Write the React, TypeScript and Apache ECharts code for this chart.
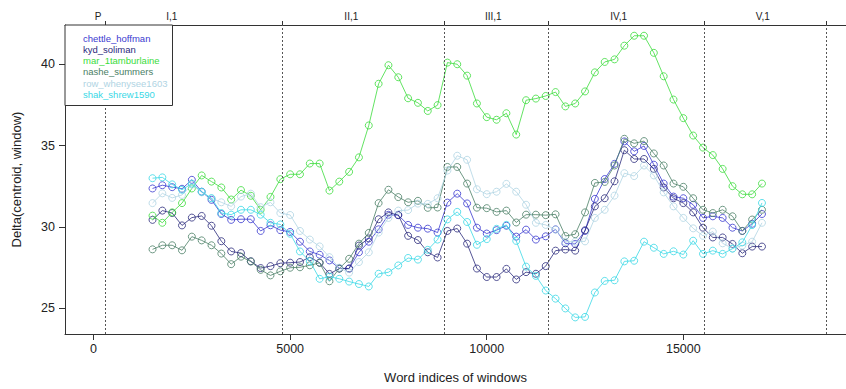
import React, { useEffect, useRef } from "react";
import * as echarts from "echarts";

// Window centre positions (word indices)
const windowX = [
  1500, 1750, 2000, 2250, 2500, 2750, 3000, 3250, 3500, 3750,
  4000, 4250, 4500, 4750, 5000, 5250, 5500, 5750, 6000, 6250,
  6500, 6750, 7000, 7250, 7500, 7750, 8000, 8250, 8500, 8750,
  9000, 9250, 9500, 9750, 10000, 10250, 10500, 10750, 11000, 11250,
  11500, 11750, 12000, 12250, 12500, 12750, 13000, 13250, 13500, 13750,
  14000, 14250, 14500, 14750, 15000, 15250, 15500, 15750, 16000, 16250,
  16500, 16750, 17000,
];

const chettleHoffman = [
  32.37, 32.57, 32.45, 32.35, 32.9, 32.17, 31.67, 30.8, 30.44, 30.48,
  30.48, 29.76, 30.11, 29.81, 29.7, 29.1, 28.5, 28.3, 27.95, 27.47,
  27.45, 28.45, 29.1, 29.86, 30.75, 30.73, 30.13, 29.96, 29.9, 29.66,
  31.5, 32.05, 31.45, 29.96, 29.6, 29.81, 30.08, 29.41, 29.84, 29.23,
  29.43, 29.86, 29.0, 28.96, 29.76, 31.73, 32.95, 33.88, 35.26, 34.65,
  34.98, 33.83, 32.67, 31.87, 31.77, 31.37, 30.56, 30.66, 30.56, 29.96,
  29.76, 30.2, 30.8,
];

const kydSoliman = [
  30.44, 31.01, 30.86, 30.1, 30.58, 30.68, 30.08, 29.13, 28.5, 28.4,
  27.9, 27.48, 27.6, 27.78, 27.81, 27.85, 28.15, 27.81, 27.12, 27.45,
  27.45, 28.86, 29.3, 30.48, 30.9, 30.74, 29.46, 29.2, 28.45, 28.13,
  29.76, 29.91, 28.98, 27.45, 26.93, 26.93, 27.43, 26.78, 27.23, 27.13,
  27.6, 28.55, 28.62, 28.55, 29.8, 31.27, 31.77, 32.81, 34.72, 34.18,
  34.18, 33.57, 32.43, 31.77, 31.47, 30.9, 29.96, 29.36, 29.36, 28.96,
  28.39, 28.8, 28.8,
];

const mar1Tamburlaine = [
  30.7, 30.26, 30.9, 31.47, 32.37, 33.17, 32.79, 32.43, 31.69, 32.27,
  31.92, 31.06, 31.85, 32.94, 33.24, 33.24, 33.9, 33.9, 32.24, 32.79,
  33.39, 34.28, 36.24, 38.8, 39.94, 39.2, 37.91, 37.63, 37.13, 37.49,
  40.1, 40.0, 39.3, 37.59, 36.75, 36.59, 36.99, 35.68, 37.79, 37.89,
  38.05, 38.29, 37.41, 37.59, 38.33, 39.5, 40.14, 40.3, 41.14, 41.75,
  41.75, 40.7, 39.26, 37.83, 36.69, 35.62, 34.88, 34.42, 33.57, 32.51,
  32.01, 32.01, 32.67,
];

const nasheSummers = [
  28.63, 28.88, 28.88, 28.57, 29.41, 29.18, 28.88, 28.37, 27.72, 28.18,
  27.88, 27.37, 27.03, 27.28, 27.5, 27.53, 27.65, 27.8, 26.67, 27.45,
  28.05, 28.98, 29.64, 31.47, 32.29, 31.84, 31.52, 31.61, 31.18, 31.2,
  33.69, 33.69, 32.67, 31.19, 31.16, 30.93, 31.01, 30.28, 30.76, 30.76,
  30.73, 30.78, 29.45, 29.56, 30.9, 32.71, 32.77, 33.78, 35.42, 35.14,
  35.28, 34.52, 33.78, 32.67, 32.47, 31.77, 31.06, 30.86, 31.06, 30.66,
  29.76, 30.46, 31.06,
];

const rowWhenYouSee1603 = [
  31.47, 32.07, 31.79, 31.97, 32.61, 32.13, 31.77, 31.52, 31.27, 31.87,
  32.05, 31.22, 31.52, 30.86, 30.74, 29.76, 29.23, 28.81, 28.15, 27.5,
  27.2, 27.85, 28.45, 29.66, 30.56, 31.01, 31.04, 31.44, 31.42, 31.77,
  33.47, 34.38, 34.13, 32.32, 32.02, 32.17, 32.65, 32.17, 31.37, 30.26,
  30.13, 29.84, 29.1, 29.1, 29.12, 30.56, 31.06, 31.93, 33.31, 33.13,
  33.78, 33.17, 32.13, 31.27, 30.56, 29.92, 29.46, 29.72, 29.0, 28.69,
  28.86, 29.1, 30.26,
];

const shakShrew1590 = [
  33.0, 33.05, 32.62, 32.29, 32.67, 32.17, 31.77, 30.86, 30.76, 31.06,
  31.06, 30.76, 30.26, 30.16, 29.59, 28.5, 27.9, 26.82, 26.95, 26.82,
  26.65, 26.5, 26.35, 27.13, 27.22, 27.64, 28.1, 28.0, 28.6, 29.23,
  30.47, 30.93, 30.31, 28.91, 29.26, 29.89, 30.13, 29.15, 27.57, 27.0,
  26.1, 25.6, 25.0, 24.45, 24.48, 25.98, 26.69, 26.73, 27.89, 27.93,
  29.1, 28.73, 28.35, 28.51, 28.31, 29.16, 28.35, 28.55, 28.35, 28.67,
  29.06, 30.12, 31.48,
];

const seriesNames = [
  "chettle_hoffman",
  "kyd_soliman",
  "mar_1tamburlaine",
  "nashe_summers",
  "row_whenysee1603",
  "shak_shrew1590",
];
const seriesValues = [
  chettleHoffman,
  kydSoliman,
  mar1Tamburlaine,
  nasheSummers,
  rowWhenYouSee1603,
  shakShrew1590,
];
const seriesColors = ["#3a3ad0", "#2a2a7c", "#3cdc3c", "#4b8066", "#b0d4e3", "#3ad8e6"];

// Act / scene boundaries and labels on the top axis
const actBoundaries = [293, 4800, 8925, 11574, 15520, 18628];
const actLabels = ["P", "I,1", "II,1", "III,1", "IV,1", "V,1"];
const actLabelPositions = [115, 1991, 6556, 10166, 13356, 17023];

const xTicks = [0, 5000, 10000, 15000];
const yTicks = [25, 30, 35, 40];

const FONT = "'Liberation Sans', Arial, Helvetica, sans-serif";

export default function App() {
  const ref = useRef<HTMLDivElement>(null);

  useEffect(() => {
    if (!ref.current) return;
    const chart = echarts.init(ref.current, undefined, { renderer: "svg" });

    const xMin = -726;
    const xMax = 19137;

    const series: any[] = seriesNames.map((name, k) => ({
      name,
      type: "line",
      xAxisIndex: 0,
      yAxisIndex: 0,
      data: windowX.map((x, i) => [x, seriesValues[k][i]]),
      symbol: "circle",
      symbolSize: 7,
      showSymbol: true,
      itemStyle: {
        color: "rgba(0,0,0,0)",
        borderColor: seriesColors[k],
        borderWidth: 1,
        opacity: 0.8,
      },
      lineStyle: { color: seriesColors[k], width: 1, opacity: 0.8 },
      emphasis: { disabled: true },
      z: 2 + k,
      markLine:
        k === 0
          ? {
              silent: true,
              symbol: ["none", "none"],
              label: { show: false },
              lineStyle: { type: [2, 2], color: "#555", width: 1 },
              data: actBoundaries.map((v) => ({ xAxis: v })),
              animation: false,
            }
          : undefined,
    }));

    chart.setOption({
      animation: false,
      textStyle: { fontFamily: FONT },
      grid: { left: 65, right: 0, top: 25, bottom: 49, containLabel: false },
      legend: {
        show: true,
        orient: "vertical",
        left: 65,
        top: 25,
        z: 20,
        backgroundColor: "#fff",
        borderColor: "#333",
        borderWidth: 1,
        padding: [8, 5, 6, 13],
        itemGap: 1.3,
        itemWidth: 0,
        itemHeight: 10,
        icon: "none",
        selectedMode: false,
        data: seriesNames.map((n, k) => ({
          name: n,
          icon: "none",
          textStyle: { color: seriesColors[k], fontSize: 9.5, fontFamily: FONT },
        })),
      },
      xAxis: [
        {
          type: "value",
          position: "bottom",
          min: xMin,
          max: xMax,
          axisLine: { show: true, onZero: false, lineStyle: { color: "#333", width: 1 } },
          axisTick: { show: true, customValues: xTicks, length: 6, lineStyle: { color: "#333" } },
          axisLabel: {
            customValues: xTicks,
            margin: 8,
            fontSize: 12.5,
            color: "#222",
            fontFamily: FONT,
            formatter: (v: number) => String(v),
          },
          splitLine: { show: false },
          name: "Word indices of windows",
          nameLocation: "middle",
          nameGap: 37,
          nameTextStyle: { fontSize: 13, color: "#222", fontFamily: FONT },
        },
        {
          type: "value",
          position: "top",
          min: xMin,
          max: xMax,
          axisLine: { show: true, onZero: false, lineStyle: { color: "#333", width: 1 } },
          axisTick: { show: true, customValues: actBoundaries, length: 4, lineStyle: { color: "#333" } },
          axisLabel: {
            customValues: actLabelPositions,
            margin: 4,
            fontSize: 10,
            color: "#222",
            fontFamily: FONT,
            formatter: (v: number) => {
              const idx = actLabelPositions.findIndex((p) => Math.abs(p - v) < 1);
              return idx >= 0 ? actLabels[idx] : "";
            },
          },
          splitLine: { show: false },
        },
      ],
      yAxis: {
        type: "value",
        min: 23.43,
        max: 42.41,
        axisLine: { show: true, onZero: false, lineStyle: { color: "#333", width: 1 } },
        axisTick: { show: true, customValues: yTicks, length: 6, lineStyle: { color: "#333" } },
        axisLabel: {
          customValues: yTicks,
          margin: 10,
          fontSize: 12.5,
          color: "#222",
          fontFamily: FONT,
        },
        splitLine: { show: false },
        name: "Delta(centroid, window)",
        nameLocation: "middle",
        nameGap: 42,
        nameRotate: 90,
        nameTextStyle: { fontSize: 13, color: "#222", fontFamily: FONT },
      },
      series,
    });

    return () => chart.dispose();
  }, []);

  return (
    <div
      ref={ref}
      style={{ position: "fixed", left: 0, top: 0, width: 846, height: 389, background: "#fff" }}
    />
  );
}
